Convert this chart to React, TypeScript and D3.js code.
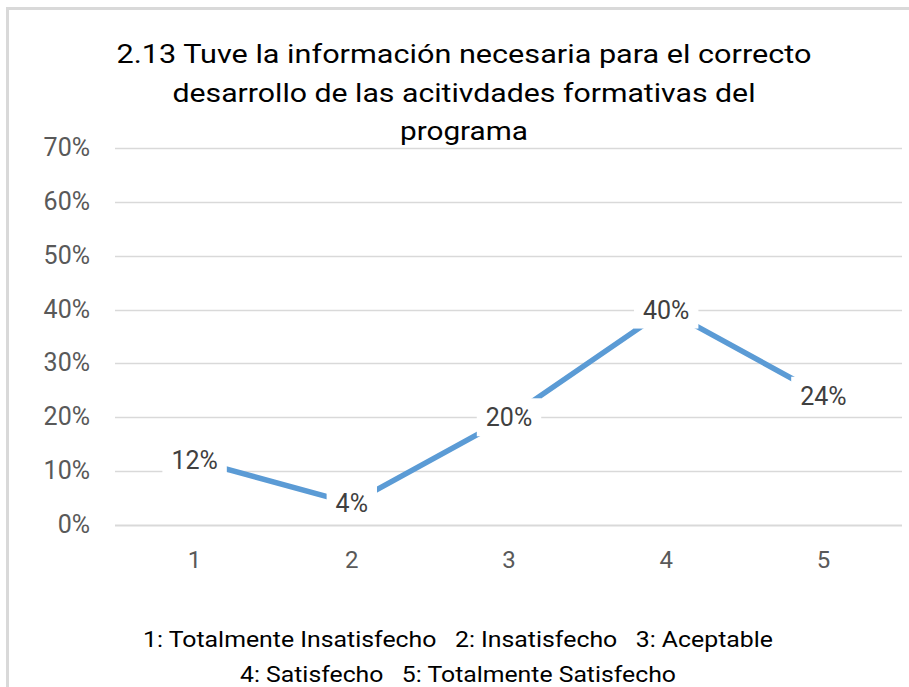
import React, { useEffect, useRef } from "react";
import * as d3 from "d3";

const categories = ["1", "2", "3", "4", "5"];
const values = [0.12, 0.04, 0.2, 0.4, 0.24];
const yTicks = [0, 0.1, 0.2, 0.3, 0.4, 0.5, 0.6, 0.7];
const titleLines = [
  "2.13 Tuve la información necesaria para el correcto",
  "desarrollo de las acitivdades formativas del",
  "programa",
];
const legendLines = [
  "1: Totalmente Insatisfecho   2: Insatisfecho   3: Aceptable",
  "4: Satisfecho   5: Totalmente Satisfecho",
];

const W = 909;
const H = 687;
const FONT = "Roboto, 'Open Sans', sans-serif";

const App = () => {
  const ref = useRef<SVGSVGElement>(null);

  useEffect(() => {
    const svg = d3.select(ref.current);
    svg.selectAll("*").remove();

    const x = d3.scalePoint<string>().domain(categories).range([116, 902]).padding(0.5);
    const y = d3.scaleLinear().domain([0, 0.7]).range([525, 148]);

    // chart frame (only top and left edges are in view)
    svg
      .append("rect")
      .attr("x", 7.5)
      .attr("y", 8.5)
      .attr("width", W + 20)
      .attr("height", H + 20)
      .attr("fill", "white")
      .attr("stroke", "#d9d9d9")
      .attr("stroke-width", 3);

    // gridlines
    svg
      .append("g")
      .selectAll("line")
      .data(yTicks)
      .enter()
      .append("line")
      .attr("x1", 115)
      .attr("x2", 902)
      .attr("y1", (d) => Math.round(y(d)) + 0.5)
      .attr("y2", (d) => Math.round(y(d)) + 0.5)
      .attr("stroke", "#d9d9d9")
      .attr("stroke-width", (d) => (d === 0 ? 2 : 1.5));

    // y labels
    svg
      .append("g")
      .selectAll("text")
      .data(yTicks)
      .enter()
      .append("text")
      .attr("x", 90)
      .attr("y", (d) => y(d) + 8)
      .attr("text-anchor", "end")
      .attr("font-family", FONT)
      .attr("font-size", 25)
      .attr("fill", "#595959")
      .text((d) => d3.format(".0%")(d));

    // x labels
    svg
      .append("g")
      .selectAll("text")
      .data(categories)
      .enter()
      .append("text")
      .attr("x", (d) => x(d)!)
      .attr("y", 568)
      .attr("text-anchor", "middle")
      .attr("font-family", FONT)
      .attr("font-size", 24)
      .attr("fill", "#595959")
      .text((d) => d);

    // line
    const line = d3
      .line<number>()
      .x((d, i) => x(categories[i])!)
      .y((d) => y(d));
    svg
      .append("path")
      .datum(values)
      .attr("d", line)
      .attr("fill", "none")
      .attr("stroke", "#5b9bd5")
      .attr("stroke-width", 5.5)
      .attr("stroke-linejoin", "round");

    // data labels with white box
    const lab = svg
      .append("g")
      .selectAll("g")
      .data(values)
      .enter()
      .append("g")
      .attr("transform", (d, i) => `translate(${x(categories[i])},${y(d)})`);
    const labText = lab
      .append("text")
      .attr("text-anchor", "middle")
      .attr("dy", "0.36em")
      .attr("font-family", FONT)
      .attr("font-size", 25)
      .attr("fill", "#404040")
      .text((d) => d3.format(".0%")(d));
    labText.each(function () {
      const t = this as SVGTextElement;
      const bb = t.getBBox();
      d3.select(t.parentNode as SVGGElement)
        .insert("rect", "text")
        .attr("x", bb.x - 9)
        .attr("y", -19)
        .attr("width", bb.width + 18)
        .attr("height", 38)
        .attr("fill", "white");
    });

    // title
    const titleY = [63, 102, 140];
    const titleW = [695, 583, 128];
    svg
      .append("g")
      .selectAll("text")
      .data(titleLines)
      .enter()
      .append("text")
      .attr("x", 464)
      .attr("y", (d, i) => titleY[i])
      .attr("text-anchor", "middle")
      .attr("font-family", FONT)
      .attr("font-size", 26)
      .attr("fill", "#000")
      .attr("textLength", (d, i) => titleW[i])
      .attr("lengthAdjust", "spacingAndGlyphs")
      .text((d) => d);

    // category legend
    const legY = [647, 682];
    const legW = [630, 436];
    svg
      .append("g")
      .selectAll("text")
      .data(legendLines)
      .enter()
      .append("text")
      .attr("x", 458)
      .attr("y", (d, i) => legY[i])
      .attr("text-anchor", "middle")
      .attr("font-family", FONT)
      .attr("font-size", 22)
      .attr("fill", "#000")
      .style("white-space", "pre")
      .attr("textLength", (d, i) => legW[i])
      .attr("lengthAdjust", "spacingAndGlyphs")
      .text((d) => d);
  }, []);

  return (
    <svg
      ref={ref}
      width={W}
      height={H}
      style={{ position: "absolute", left: 0, top: 0, background: "white" }}
    ></svg>
  );
};

export default App;
